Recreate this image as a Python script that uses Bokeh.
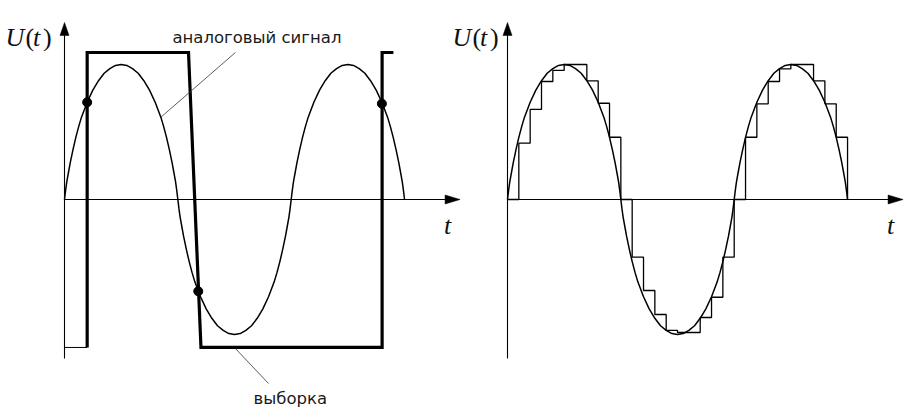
from bokeh.plotting import figure
from bokeh.models import Range1d
from bokeh.core.properties import value
from bokeh.embed import file_html
from bokeh.resources import INLINE

# ---------------- data ----------------
# analog signal: shape of one half-wave (fraction of the half period -> relative amplitude)
arch_f = [0, 0.01, 0.02, 0.035, 0.05, 0.075, 0.1, 0.125, 0.15, 0.2, 0.25, 0.3, 0.35, 0.4, 0.45,
          0.5, 0.55, 0.6, 0.65, 0.7, 0.75, 0.8, 0.85, 0.875, 0.9, 0.925, 0.95, 0.965, 0.98, 0.99, 1.0]
arch_u = [0, 0.07, 0.13, 0.2, 0.27, 0.37, 0.46, 0.54, 0.61, 0.72, 0.81, 0.88, 0.935, 0.97, 0.993,
          1.0, 0.993, 0.97, 0.935, 0.88, 0.81, 0.72, 0.61, 0.54, 0.46, 0.37, 0.27, 0.2, 0.13, 0.07, 0]
half_wave_sign = [1, -1, 1]
half_period = 0.5

# left panel: sampling instants and the sampled values (dots)
sample_t = [0.10, 0.59, 1.40]
sample_u = [0.72, -0.68, 0.71]

# left panel: sampling pulse ("выборка")
pulse_t = [0.10, 0.10, 0.547, 0.602, 1.401, 1.401, 1.451]
pulse_u = [-1.096, 1.089, 1.089, -1.096, -1.096, 1.089, 1.089]
pulse_base_t = [0.0, 0.10]
pulse_base_u = [-1.096, -1.096]

# right panel: sample-and-hold staircase
step_t = [0.00, 0.05, 0.10, 0.15, 0.20, 0.25, 0.30, 0.35, 0.40, 0.45, 0.50,
          0.55, 0.60, 0.65, 0.70, 0.75, 0.80, 0.85, 0.90, 0.95, 1.00,
          1.05, 1.10, 1.15, 1.20, 1.25, 1.30, 1.35, 1.40, 1.45, 1.50]
step_u = [0, 0.417, 0.667, 0.874, 0.956, 1.0, 1.0, 0.879, 0.713, 0.461, 0,
          -0.427, -0.674, -0.852, -0.970, -0.985, -0.985, -0.874, -0.724, -0.427, 0,
          0.461, 0.709, 0.874, 0.968, 1.0, 1.0, 0.879, 0.709, 0.461, 0]

# axis captions: pieces of "U(t)" (italic letters, upright brackets)
cap_parts = ["U", "(", "t", ")"]
cap_italic = [True, False, True, False]

# axis extents (relative units)
axis_t_end = 1.745
axis_u_top = 1.311
axis_u_bottom = -1.178

# analog signal assembled from the half-waves
sig_t, sig_u = [], []
for h, s in enumerate(half_wave_sign):
    for i, (f, u) in enumerate(zip(arch_f, arch_u)):
        if h > 0 and i == 0:
            continue
        sig_t.append((h + f) * half_period)
        sig_u.append(s * u)

# ---------------- layout ----------------
W, H = 921, 407
PX_T, PX_U = 226.7, 135.0          # pixels per unit of t and U
OX_L, OX_R, OY = 64, 507, 199       # origins of both panels inside the figure

p = figure(width=W, height=H, output_backend="svg", toolbar_location=None,
           x_axis_type=None, y_axis_type=None, min_border=0,
           x_range=Range1d(-OX_L / PX_T, (W - OX_L) / PX_T),
           y_range=Range1d(-(H - OY) / PX_U, OY / PX_U))
p.extra_x_ranges = {"right": Range1d(-OX_R / PX_T, (W - OX_R) / PX_T)}
p.outline_line_color = None
p.grid.visible = False
p.background_fill_color = "white"
p.border_fill_color = "white"

INK = "black"

def axes(rng):
    p.line([0, 0], [axis_u_bottom, axis_u_top - 8 / PX_U], line_color=INK, line_width=1.1, x_range_name=rng)
    p.line([0, axis_t_end - 8 / PX_T], [0, 0], line_color=INK, line_width=1.1, x_range_name=rng)
    p.patch([0, -4.5 / PX_T, 4.5 / PX_T],
            [axis_u_top, axis_u_top - 13 / PX_U, axis_u_top - 13 / PX_U],
            fill_color=INK, line_color=INK, line_width=0.5, x_range_name=rng)
    p.patch([axis_t_end, axis_t_end - 15 / PX_T, axis_t_end - 15 / PX_T],
            [0, 4.5 / PX_U, -4.5 / PX_U],
            fill_color=INK, line_color=INK, line_width=0.5, x_range_name=rng)

axes("default")
axes("right")

# ---- left panel ----
p.line(sig_t, sig_u, line_color=INK, line_width=1.5)
p.line(pulse_base_t, pulse_base_u, line_color=INK, line_width=1.0)
p.line(pulse_t, pulse_u, line_color=INK, line_width=3.2, line_join="miter")
p.scatter(sample_t, sample_u, size=9, fill_color=INK, line_color=INK)

# leader lines for the captions
p.line([0.754, 0.4235], [1.089, 0.607], line_color="#333333", line_width=0.8)
p.line([0.754, 0.900], [-1.104, -1.363], line_color="#333333", line_width=0.8)

sans = value("DejaVu Sans")
p.text(x=[0.476], y=[1.2], text=["аналоговый сигнал"], text_font=sans, text_font_size="16.5px",
       text_color="#1a1a1a", text_baseline="alphabetic", text_align="left")
p.text(x=[0.834], y=[-1.475], text=["выборка"], text_font=sans, text_font_size="16.5px",
       text_color="#1a1a1a", text_baseline="alphabetic", text_align="left")

# ---- right panel ----
p.line(sig_t, sig_u, line_color=INK, line_width=1.5, x_range_name="right")
p.step(step_t, step_u, mode="after", line_color=INK, line_width=1.3, x_range_name="right")

# ---- axis captions ----
serif = value("Liberation Serif")
part_offsets_px = [0, 20, 27.5, 37.5]
for rng, cap_px in (("default", 5 - OX_L), ("right", 452 - OX_R)):
    for part, ital, off in zip(cap_parts, cap_italic, part_offsets_px):
        p.text(x=[(cap_px + off) / PX_T], y=[1.2], text=[part], text_font=serif,
               text_font_style="italic" if ital else "normal",
               text_font_size="26px", text_color="#111111", text_baseline="alphabetic",
               text_align="left", x_range_name=rng)
    p.text(x=[1.69], y=[-0.193], text=["t"], text_font=serif, text_font_style="italic",
           text_font_size="26px", text_color="#111111", text_baseline="alphabetic",
           text_align="center", x_range_name=rng)

open("out.html", "w").write(file_html(p, INLINE))
